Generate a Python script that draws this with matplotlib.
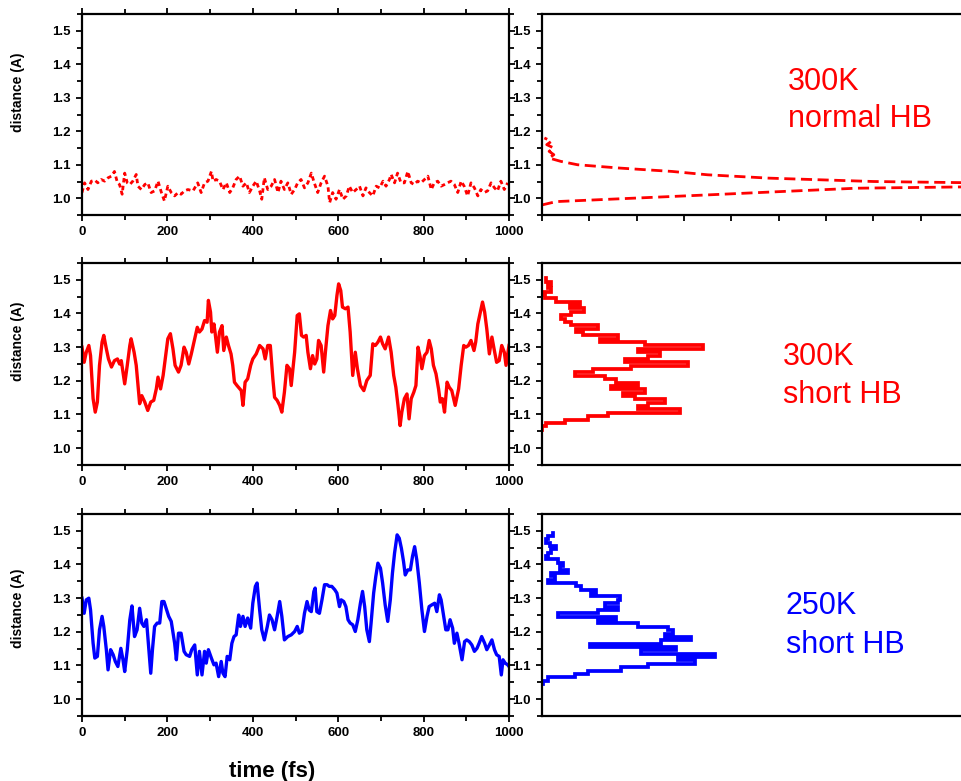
import numpy as np
import matplotlib.pyplot as plt
from matplotlib.ticker import MultipleLocator, NullLocator

plt.rcParams['font.family'] = ['Liberation Sans', 'DejaVu Sans']

RED = '#ff0000'
BLUE = '#0000ff'

# 300K, normal H-bond: distance (A) vs time (fs)
t_normal = [0, 6, 14, 22, 30, 37, 45, 53, 61, 69,
            76, 83, 88, 94, 100, 106, 112, 119, 127, 131,
            139, 147, 154, 162, 170, 178, 186, 193, 201, 209,
            217, 225, 232, 240, 248, 260, 271, 279, 287, 295,
            303, 307, 314, 322, 330, 338, 346, 353, 361, 369,
            377, 385, 392, 400, 408, 416, 421, 427, 435, 443,
            451, 459, 466, 474, 482, 490, 498, 505, 513, 521,
            529, 537, 544, 552, 560, 568, 576, 580, 587, 595,
            603, 611, 619, 626, 634, 642, 650, 658, 665, 673,
            681, 689, 697, 705, 712, 720, 724, 732, 739, 747,
            755, 763, 771, 778, 786, 794, 802, 810, 818, 825,
            833, 841, 849, 856, 864, 872, 880, 888, 895, 903,
            911, 919, 927, 934, 942, 950, 958, 966, 973, 981,
            989, 997]
d_normal = [1.017, 1.046, 1.026, 1.051, 1.054, 1.046, 1.056, 1.051, 1.061, 1.066,
            1.080, 1.046, 1.041, 1.012, 1.075, 1.046, 1.041, 1.051, 1.071, 1.036,
            1.026, 1.041, 1.046, 1.017, 1.022, 1.051, 1.017, 0.992, 1.036, 1.017,
            1.007, 1.017, 1.012, 1.022, 1.026, 1.022, 1.046, 1.017, 1.046, 1.051,
            1.080, 1.051, 1.056, 1.051, 1.026, 1.046, 1.017, 1.031, 1.056, 1.066,
            1.036, 1.046, 1.017, 1.036, 1.051, 1.022, 0.997, 1.061, 1.026, 1.036,
            1.056, 1.017, 1.051, 1.026, 1.046, 1.012, 1.026, 1.046, 1.056, 1.031,
            1.046, 1.075, 1.046, 1.017, 1.046, 1.066, 1.036, 0.987, 1.017, 0.997,
            1.026, 0.997, 1.007, 1.036, 1.017, 1.026, 1.036, 1.007, 1.031, 1.017,
            1.007, 1.036, 1.031, 1.051, 1.036, 1.056, 1.071, 1.046, 1.075, 1.046,
            1.046, 1.080, 1.046, 1.041, 1.051, 1.046, 1.056, 1.066, 1.026, 1.046,
            1.051, 1.036, 1.041, 1.046, 1.051, 1.041, 1.017, 1.051, 1.036, 1.007,
            1.046, 1.031, 1.007, 1.026, 1.017, 1.022, 1.046, 1.031, 1.022, 1.051,
            1.026, 1.046]

# 300K, short H-bond
t_short300 = [0, 5, 10, 16, 20, 26, 31, 36, 41, 47, 51, 57, 62, 69, 76, 83, 88, 92, 100, 106,
              112, 115, 122, 127, 135, 140, 147, 154, 161, 168, 174, 178, 184, 190, 195, 201, 207, 213, 218, 226,
              232, 239, 244, 250, 256, 264, 270, 275, 281, 287, 293, 296, 301, 304, 309, 312, 317, 322, 328, 332,
              338, 343, 349, 353, 357, 363, 373, 377, 382, 388, 395, 400, 408, 416, 424, 429, 435, 441, 447, 451,
              457, 463, 468, 474, 480, 486, 490,
              498, 504, 509, 514, 519, 525, 529, 535, 540, 545, 550, 554, 560, 566, 570, 576, 582, 587, 592, 597,
              601, 606, 610, 617, 623, 628, 634, 640, 645, 652, 660, 667, 675, 681, 687, 693, 699, 704, 710, 718,
              724, 730, 735, 740, 745, 749, 755, 761, 766, 771, 777, 782, 787, 792, 796, 802, 808, 813, 818, 823,
              829, 835, 839, 844, 849, 855, 860, 866, 874, 882, 888, 894, 899, 905, 911, 918, 922, 927, 933, 938,
              943, 948, 954, 960, 965, 971, 977, 983, 989, 993, 1000]
d_short300 = [1.300, 1.255, 1.285, 1.305, 1.275, 1.147, 1.107, 1.137, 1.246, 1.315,
              1.335, 1.295, 1.265, 1.241, 1.260, 1.265, 1.250, 1.260, 1.191, 1.246,
              1.305, 1.325, 1.285, 1.246, 1.132, 1.156, 1.137, 1.112, 1.137, 1.142,
              1.176, 1.211, 1.176, 1.216, 1.265, 1.325, 1.340, 1.295, 1.246, 1.226,
              1.246, 1.300, 1.285, 1.250, 1.280, 1.325, 1.359, 1.345, 1.354, 1.379,
              1.374, 1.439, 1.404, 1.345, 1.369, 1.340, 1.285, 1.345, 1.364, 1.290,
              1.330, 1.305, 1.280, 1.246, 1.196, 1.186, 1.171, 1.127, 1.196, 1.206,
              1.246, 1.265, 1.280, 1.305, 1.295, 1.265, 1.305, 1.305, 1.206, 1.151,
              1.142, 1.127, 1.107, 1.166, 1.246, 1.236, 1.186,
              1.285, 1.394, 1.399, 1.335, 1.330, 1.335, 1.285, 1.236, 1.275, 1.250,
              1.265, 1.320, 1.305, 1.226, 1.285, 1.364, 1.409, 1.384, 1.394, 1.453,
              1.488, 1.468, 1.419, 1.414, 1.419, 1.345, 1.216, 1.285, 1.236, 1.186,
              1.171, 1.201, 1.216, 1.310, 1.305, 1.315, 1.330, 1.310, 1.295, 1.330,
              1.285, 1.216, 1.181, 1.127, 1.067, 1.107, 1.147, 1.161, 1.087, 1.147,
              1.166, 1.186, 1.300, 1.270, 1.236, 1.275, 1.285, 1.320, 1.295, 1.246,
              1.221, 1.176, 1.137, 1.147, 1.107, 1.196, 1.181, 1.171, 1.127, 1.176,
              1.246, 1.305, 1.300, 1.305, 1.320, 1.290, 1.315, 1.369, 1.404, 1.434,
              1.404, 1.354, 1.280, 1.330, 1.295, 1.255, 1.260, 1.305, 1.285, 1.246,
              1.305]

# 250K, short H-bond
t_short250 = [0, 5, 10, 16, 20, 26, 30, 36, 41, 47, 51, 57, 61, 67, 73, 78, 84, 91, 96, 100,
              106, 112, 117, 123, 129, 135, 140, 145, 151, 156, 161, 165, 170, 176, 182, 187, 192, 197, 203, 209,
              217, 221, 226, 232, 239, 244, 252, 257, 264, 270, 275, 281, 287, 291, 296, 303, 309, 314, 320, 326,
              330, 335, 340, 346, 351, 356, 361, 367, 371, 377, 382, 388, 395, 400, 406, 410, 416, 421, 427, 434,
              439, 445, 451, 457, 463, 468, 474, 482, 490,
              498, 504, 509, 515, 521, 527, 532, 537, 543, 546, 550, 556, 562, 568, 574, 579, 585, 592, 597, 603,
              607, 613, 618, 623, 628, 634, 640, 646, 652, 657, 662, 667, 673, 677, 683, 688, 693, 699, 704, 710,
              716, 722, 727, 732, 738, 743, 748, 753, 757, 763, 769, 774, 779, 784, 790, 796, 802, 808, 813, 819,
              826, 831, 837, 841, 847, 852, 857, 862, 868, 872, 878, 883, 890, 896, 901, 907, 913, 919, 925, 930,
              936, 943, 948, 954, 960, 966, 971, 977, 982, 986, 991, 997, 1000]
d_short250 = [1.300, 1.255, 1.295, 1.300, 1.265, 1.166, 1.122, 1.127, 1.206, 1.246,
              1.216, 1.147, 1.087, 1.147, 1.132, 1.112, 1.097, 1.151, 1.117, 1.082,
              1.147, 1.236, 1.277, 1.186, 1.206, 1.270, 1.226, 1.216, 1.236, 1.156,
              1.077, 1.147, 1.216, 1.226, 1.226, 1.290, 1.290, 1.270, 1.246, 1.231,
              1.166, 1.117, 1.196, 1.196, 1.142, 1.132, 1.127, 1.147, 1.161, 1.072,
              1.142, 1.072, 1.142, 1.107, 1.147, 1.122, 1.102, 1.107, 1.067, 1.112,
              1.077, 1.067, 1.127, 1.117, 1.166, 1.186, 1.191, 1.250, 1.216, 1.246,
              1.216, 1.241, 1.211, 1.285, 1.335, 1.345, 1.265, 1.206, 1.176, 1.216,
              1.250, 1.236, 1.206, 1.246, 1.290, 1.246, 1.176, 1.186, 1.191,
              1.201, 1.216, 1.196, 1.201, 1.255, 1.290, 1.265, 1.260, 1.320, 1.330,
              1.260, 1.255, 1.295, 1.340, 1.340, 1.335, 1.335, 1.325, 1.315, 1.275,
              1.295, 1.290, 1.275, 1.236, 1.226, 1.221, 1.201, 1.236, 1.285, 1.320,
              1.275, 1.206, 1.171, 1.226, 1.315, 1.364, 1.404, 1.389, 1.345, 1.280,
              1.231, 1.295, 1.374, 1.434, 1.488, 1.478, 1.448, 1.409, 1.369, 1.384,
              1.384, 1.424, 1.453, 1.414, 1.345, 1.265, 1.201, 1.246, 1.275, 1.280,
              1.285, 1.260, 1.310, 1.295, 1.246, 1.206, 1.206, 1.236, 1.211, 1.166,
              1.196, 1.166, 1.117, 1.171, 1.176, 1.171, 1.161, 1.142, 1.151, 1.166,
              1.186, 1.166, 1.147, 1.161, 1.176, 1.147, 1.132, 1.127, 1.072, 1.117,
              1.107, 1.102, 1.097]

# distance distributions (bin centre in A, count), bin width 0.01 A
hist_d_normal = [0.98, 0.99, 1.00, 1.01, 1.02, 1.03, 1.04, 1.05, 1.06, 1.07, 1.08,
                 1.09, 1.10, 1.11, 1.12, 1.13, 1.14, 1.15, 1.16, 1.17, 1.18]
hist_c_normal = [0, 6, 38, 70, 101, 133, 250, 140, 96, 70, 55,
                 33, 15, 8, 3, 5, 3, 5, 2, 4, 1]

hist_d_short300 = [1.50, 1.49, 1.48, 1.47, 1.46, 1.45, 1.44, 1.43, 1.42, 1.41,
                   1.40, 1.39, 1.38, 1.37, 1.36, 1.35, 1.34, 1.33, 1.32, 1.31,
                   1.30, 1.29, 1.28, 1.27, 1.26, 1.25, 1.24, 1.23, 1.22, 1.21,
                   1.20, 1.19, 1.18, 1.17, 1.16, 1.15, 1.14, 1.13, 1.12, 1.11,
                   1.10, 1.09, 1.08, 1.07, 1.06]
hist_c_short300 = [1.8, 3.7, 2.5, 3.7, 0.3, 1.1, 6.1, 15.9, 11.7, 17.7,
                   12.4, 8.2, 9.6, 12.4, 23.7, 14.5, 17.3, 32.1, 24.4, 43.4,
                   68.0, 40.6, 49.7, 44.8, 34.9, 61.7, 37.7, 21.5, 13.8, 26.5,
                   31.4, 40.6, 29.3, 43.4, 34.2, 39.2, 51.8, 44.8, 40.6, 58.2,
                   27.9, 19.4, 9.6, 1.8, 0]

hist_d_short250 = [1.49, 1.48, 1.47, 1.46, 1.45, 1.44, 1.43, 1.42, 1.41, 1.40,
                   1.39, 1.38, 1.37, 1.36, 1.35, 1.34, 1.33, 1.32, 1.31, 1.30,
                   1.29, 1.28, 1.27, 1.26, 1.25, 1.24, 1.23, 1.22, 1.21, 1.20,
                   1.19, 1.18, 1.17, 1.16, 1.15, 1.14, 1.13, 1.12, 1.11, 1.10,
                   1.09, 1.08, 1.07, 1.06, 1.05]
hist_c_short250 = [4.6, 2.5, 1.8, 3.2, 6.1, 3.9, 2.5, 1.8, 6.8, 8.9,
                   7.5, 11.0, 3.9, 5.4, 2.5, 14.5, 16.6, 23.0, 20.8, 32.8,
                   32.1, 26.5, 32.1, 23.7, 6.8, 31.4, 23.7, 40.6, 53.2, 55.4,
                   51.8, 63.1, 50.4, 20.1, 56.8, 42.0, 73.0, 57.5, 64.5, 44.8,
                   33.5, 19.4, 13.8, 2.5, 0.4]

panel_labels = [('300K', 'normal HB'), ('300K', 'short HB'), ('250K', 'short HB')]


def hist_outline(centers, counts, width=0.01):
    # outline of horizontal histogram bars, ordered from low to high distance
    centers = np.asarray(centers, dtype=float)
    counts = np.asarray(counts, dtype=float)
    order = np.argsort(centers)
    centers, counts = centers[order], counts[order]
    y = np.column_stack([centers - width / 2, centers + width / 2]).ravel()
    x = np.repeat(counts, 2)
    return x, y


def style_axes(ax):
    for sp in ax.spines.values():
        sp.set_linewidth(1.6)
    ax.tick_params(which='both', direction='out', width=1.3, labelsize=9.5)
    ax.tick_params(which='major', length=4.5)
    ax.tick_params(which='minor', length=3.5)
    for lab in ax.get_xticklabels() + ax.get_yticklabels():
        lab.set_fontweight('bold')


W, H = 962, 781
fig = plt.figure(figsize=(W / 100, H / 100), dpi=100)

rows = [(14, 215), (263, 465), (514, 716)]
series = [(t_normal, d_normal, RED), (t_short300, d_short300, RED), (t_short250, d_short250, BLUE)]
hists = [(hist_d_normal, hist_c_normal), (hist_d_short300, hist_c_short300),
         (hist_d_short250, hist_c_short250)]
label_y = [92, 341, 608]
text_base = [((788, 90), (788, 127)), ((783, 365), (783, 403)), ((786, 614), (786, 653))]

for i, (top, bot) in enumerate(rows):
    y0 = 1 - bot / H
    h = (bot - top) / H
    t, d, col = series[i]

    # time trace
    ax = fig.add_axes([82 / W, y0, 427 / W, h])
    if i == 0:
        ax.plot(t, d, color=col, lw=2.0, ls=(0, (1.6, 1.2)))
    else:
        ax.plot(t, d, color=col, lw=2.4)
    ax.set_xlim(0, 1000)
    ax.set_ylim(0.95, 1.55)
    ax.xaxis.set_major_locator(MultipleLocator(200))
    ax.xaxis.set_minor_locator(MultipleLocator(100))
    ax.yaxis.set_major_locator(MultipleLocator(0.1))
    ax.yaxis.set_minor_locator(MultipleLocator(0.05))
    ax.tick_params(which='both', top=True, right=True)
    ax.set_yticks(np.arange(1.0, 1.51, 0.1))
    ax.set_yticklabels(['%.1f' % v for v in np.arange(1.0, 1.51, 0.1)])
    style_axes(ax)
    fig.text(18 / W, 1 - label_y[i] / H, 'distance (A)', rotation=90,
             ha='center', va='center', fontsize=10, fontweight='bold')

    # distance distribution
    hx = fig.add_axes([542 / W, y0, 426 / W, h])
    if i == 0:
        # narrow distribution drawn as a dashed curve through the bin counts
        hd = np.asarray(hists[i][0])
        hc = np.asarray(hists[i][1])
        order = np.argsort(hd)
        hx.plot(hc[order], hd[order], color=col, lw=2.0, ls=(0, (4, 2)))
    else:
        cx, cy = hist_outline(*hists[i])
        hx.plot(cx, cy, color=col, lw=2.7, solid_joinstyle='miter')
    hx.set_xlim(0, 180)
    hx.set_ylim(0.95, 1.55)
    hx.yaxis.set_major_locator(MultipleLocator(0.1))
    hx.yaxis.set_minor_locator(MultipleLocator(0.05))
    hx.set_yticks(np.arange(1.0, 1.51, 0.1))
    hx.set_yticklabels(['%.1f' % v for v in np.arange(1.0, 1.51, 0.1)])
    if i == 0:
        hx.xaxis.set_major_locator(MultipleLocator(20))
        hx.tick_params(axis='x', labelbottom=False)
    else:
        hx.xaxis.set_major_locator(NullLocator())
    hx.xaxis.set_minor_locator(NullLocator())
    style_axes(hx)

    for (px, py), line in zip(text_base[i], panel_labels[i]):
        fig.text(px / W, 1 - py / H, line, color=col, fontsize=22,
                 ha='left', va='baseline')

fig.text(272 / W, 1 - 777 / H, 'time (fs)', ha='center', va='baseline',
         fontsize=16, fontweight='bold')

fig.savefig('out.png', dpi=100)
